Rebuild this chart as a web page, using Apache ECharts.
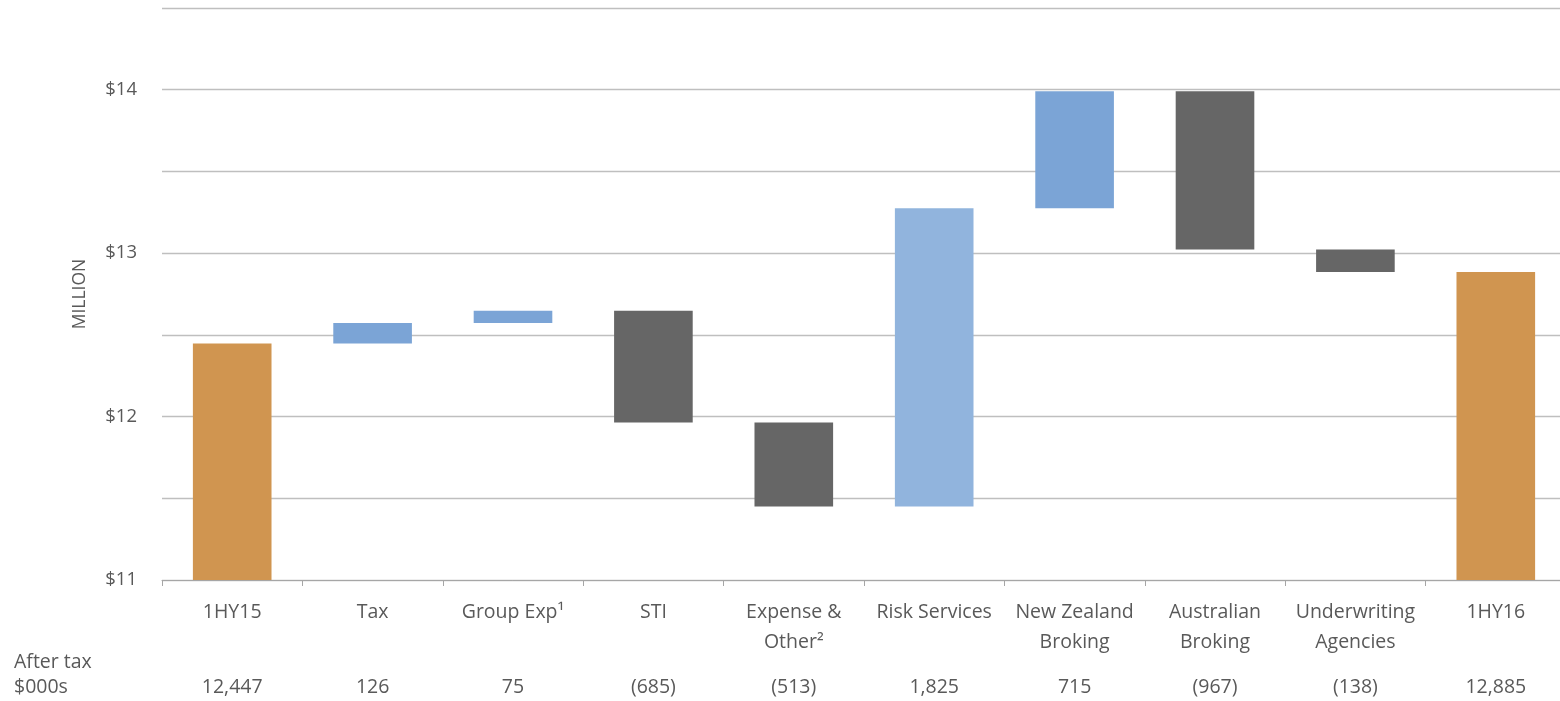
<!DOCTYPE html>
<html><head><meta charset="utf-8">
<script src="https://cdn.jsdelivr.net/npm/echarts@6/dist/echarts.min.js"></script>
<style>html,body{margin:0;padding:0;background:#fff;overflow:hidden;width:1560px;height:701px}#c{width:1566px;height:701px}</style>
</head><body><div id="c"></div>
<script>
const categories = ['1HY15','Tax','Group Exp¹','STI','Expense &\nOther²','Risk Services','New Zealand\nBroking','Australian\nBroking','Underwriting\nAgencies','1HY16'];
// After-tax change in $000s
const values = [12447, 126, 75, -685, -513, 1825, 715, -967, -138, 12885];
const isTotal = [true, false, false, false, false, false, false, false, false, true];
const valueLabels = ['12,447','126','75','(685)','(513)','1,825','715','(967)','(138)','12,885'];
const yTicks = [11, 12, 13, 14];

const colTotal = '#D09550', colUp = '#7BA4D6', colUpLight = '#91B4DD', colDown = '#666666';

let running = 0;
const base = [], delta = [];
values.forEach((v, i) => {
  if (isTotal[i]) { base.push(0); delta.push(v / 1000); running = v; }
  else {
    const s = running, e = running + v;
    base.push(Math.min(s, e) / 1000); delta.push(Math.abs(v) / 1000); running = e;
  }
});
function colorFor(i) {
  if (isTotal[i]) return colTotal;
  if (values[i] < 0) return colDown;
  return categories[i] === 'Risk Services' ? colUpLight : colUp;
}
const font = '"Open Sans", sans-serif';
const chart = echarts.init(document.getElementById('c'));
chart.setOption({
  animation: false,
  grid: { left: 162, right: 0, top: 8, bottom: 121 },
  xAxis: [{
    type: 'category', data: categories, position: 'bottom',
    axisLine: { lineStyle: { color: '#A6A6A6', width: 1 } },
    axisTick: { show: true, length: 6, lineStyle: { color: '#A6A6A6' } },
    axisLabel: { color: '#595959', fontSize: 19.5, fontFamily: font, margin: 17, lineHeight: 30, interval: 0 }
  }, {
    type: 'category', data: valueLabels, position: 'bottom', offset: 97,
    axisLine: { show: false }, axisTick: { show: false },
    axisLabel: { color: '#595959', fontSize: 19.5, fontFamily: font, margin: 0, interval: 0 }
  }],
  yAxis: {
    type: 'value', min: 11, max: 14.5, interval: 0.5,
    name: 'MILLION', nameLocation: 'middle', nameGap: 73, nameRotate: 90,
    nameTextStyle: { color: '#595959', fontSize: 17.5, fontFamily: font },
    axisLine: { show: false }, axisTick: { show: false },
    axisLabel: { color: '#595959', fontSize: 18.5, fontFamily: font, margin: 25,
      formatter: v => yTicks.includes(v) ? '$' + v : '' },
    splitLine: { lineStyle: { color: '#BFBFBF', width: 1.3 } }
  },
  series: [{
    type: 'bar', stack: 'w', data: base, barWidth: '56%',
    itemStyle: { color: 'transparent' }, silent: true
  }, {
    type: 'bar', stack: 'w', barWidth: '56%',
    data: delta.map((d, i) => ({ value: d, itemStyle: { color: colorFor(i) } }))
  }],
  graphic: [{
    type: 'text', left: 14, top: 650,
    style: { text: 'After tax\n$000s', fill: '#595959', font: '19.5px ' + font, lineHeight: 25 }
  }]
});
</script></body></html>
